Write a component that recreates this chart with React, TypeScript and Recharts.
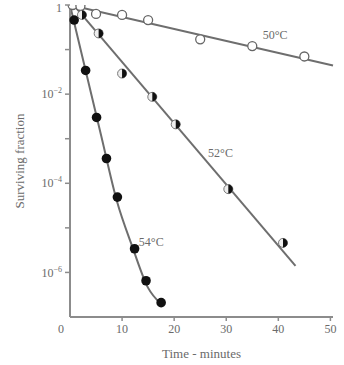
import React from "react";
import {
  ComposedChart,
  Line,
  Scatter,
  XAxis,
  YAxis,
  ReferenceDot,
} from "recharts";

// survival curves (time in minutes, surviving fraction)
const times50 = [0.5, 2, 5, 10, 15, 25, 35, 45];
const surv50 = [1.0, 0.95, 0.63, 0.6, 0.46, 0.17, 0.12, 0.07];
const fitTimes50 = [0, 50.5];
const fitSurv50 = [1.0, 0.044];

const times52 = [2.3, 5.5, 10, 15.8, 20.3, 30.4, 40.9];
const surv52 = [0.6, 0.23, 0.029, 0.0087, 0.0021, 7.4e-5, 4.6e-6];
const fitTimes52 = [1, 43.3];
const fitSurv52 = [0.91, 1.4e-6];

const times54 = [0.8, 3, 5.1, 7, 9.1, 12.4, 14.6, 17.5];
const surv54 = [0.46, 0.034, 0.003, 3.6e-4, 4.9e-5, 3.4e-6, 6.5e-7, 2.1e-7];
const fitTimes54 = [0, 3, 6, 9, 12, 15, 17.5];
const fitSurv54 = [1.0, 0.034, 1.15e-3, 4e-5, 3.7e-6, 4.5e-7, 1.95e-7];

const xTicks = [0, 10, 20, 30, 40, 50];
const yTicks = [1, 1e-1, 1e-2, 1e-3, 1e-4, 1e-5, 1e-6];

const curveLabels = [
  { text: "50°C", t: 39.4, s: 0.21 },
  { text: "52°C", t: 28.9, s: 4.9e-4 },
  { text: "54°C", t: 15.6, s: 4.8e-6 },
];

const zip = (ts: number[], ss: number[]) => ts.map((t, i) => ({ t, s: ss[i] }));

const AXIS = "#8c8c8c";
const LINE = "#6e6e6e";
const TEXT = "#6a6a6a";
const FONT = "'Liberation Serif', 'DejaVu Serif', serif";

const OpenDot = (p: any) => (
  <circle cx={p.cx} cy={p.cy} r={4.5} fill="#fff" stroke="#666" strokeWidth={1.3} />
);

const FullDot = (p: any) => <circle cx={p.cx} cy={p.cy} r={4.8} fill="#111" />;

const HalfDot = (p: any) => {
  const r = 4.5;
  return (
    <g>
      <circle cx={p.cx} cy={p.cy} r={r} fill="#eee" stroke="#777" strokeWidth={1} />
      <path
        d={`M${p.cx},${p.cy - r} A${r},${r} 0 0 1 ${p.cx},${p.cy + r} Z`}
        fill="#111"
      />
    </g>
  );
};

function XTick({ x, y, payload }: any) {
  const v = payload.value;
  return (
    <g>
      {v !== 0 && <line x1={x} x2={x} y1={y - 4} y2={y} stroke={AXIS} strokeWidth={1.5} />}
      <text
        x={v === 0 ? x - 9 : x}
        y={y + 3}
        dy="0.71em"
        textAnchor="middle"
        fontSize={12}
        fill={TEXT}
        fontFamily={FONT}
      >
        {v}
      </text>
    </g>
  );
}

function YTick({ x, y, payload }: any) {
  const exp = Math.round(Math.log10(payload.value));
  // tick mark drawn here so every decade gets one, labels only on even decades
  const mark = <line x1={x + 3} x2={x + 8} y1={y} y2={y} stroke={AXIS} strokeWidth={1.5} />;
  if (exp % 2 !== 0) return <g>{mark}</g>;
  return (
    <g>
      {mark}
      <text
        x={x}
        y={exp === 0 ? y + 3 : y}
        dy="0.35em"
        textAnchor="end"
        fontSize={12}
        fill={TEXT}
        fontFamily={FONT}
      >
        {exp === 0 ? (
          "1"
        ) : (
          <>
            10
            <tspan fontSize={8} dy={-5}>
              {`−${-exp}`}
            </tspan>
          </>
        )}
      </text>
    </g>
  );
}

export default function App() {
  return (
    <div style={{ position: "fixed", left: 0, top: 0, background: "#fff" }}>
      <ComposedChart
        width={344}
        height={365}
        margin={{ top: 5, right: 11, bottom: 0, left: 8 }}
      >
        <XAxis
          type="number"
          dataKey="t"
          domain={[0, 50]}
          ticks={xTicks}
          interval={0}
          stroke={AXIS}
          strokeWidth={2}
          tickLine={false}
          tickSize={4}
          tickMargin={0}
          tick={<XTick />}
          height={48}
          label={{
            value: "Time - minutes",
            position: "insideBottom",
            offset: 7,
            style: { fontSize: 13, fill: TEXT, fontFamily: FONT },
          }}
        />
        <YAxis
          type="number"
          scale="log"
          domain={[1e-7, 1]}
          allowDataOverflow
          ticks={yTicks}
          interval={0}
          stroke={AXIS}
          strokeWidth={2}
          tickLine={false}
          tickSize={5}
          tickMargin={3}
          tick={<YTick />}
          width={62}
          label={{
            content: ({ viewBox }: any) => {
              const cx = viewBox.x + 13;
              const cy = viewBox.y + viewBox.height / 2;
              return (
                <text
                  x={cx}
                  y={cy}
                  transform={`rotate(-90 ${cx} ${cy})`}
                  textAnchor="middle"
                  dominantBaseline="middle"
                  fontSize={13}
                  fill={TEXT}
                  fontFamily={FONT}
                >
                  Surviving fraction
                </text>
              );
            },
          }}
        />
        <Line data={zip(fitTimes50, fitSurv50)} dataKey="s" stroke={LINE} strokeWidth={2} dot={false} isAnimationActive={false} />
        <Line data={zip(fitTimes52, fitSurv52)} dataKey="s" stroke={LINE} strokeWidth={2} dot={false} isAnimationActive={false} />
        <Line type="monotone" data={zip(fitTimes54, fitSurv54)} dataKey="s" stroke={LINE} strokeWidth={2} dot={false} isAnimationActive={false} />
        <Scatter data={zip(times50, surv50)} dataKey="s" shape={OpenDot} isAnimationActive={false} />
        <Scatter data={zip(times52, surv52)} dataKey="s" shape={HalfDot} isAnimationActive={false} />
        <Scatter data={zip(times54, surv54)} dataKey="s" shape={FullDot} isAnimationActive={false} />
        {curveLabels.map((c) => (
          <ReferenceDot
            key={c.text}
            x={c.t}
            y={c.s}
            r={0}
            fill="none"
            stroke="none"
            label={{
              value: c.text,
              position: "center",
              style: { fontSize: 12, fill: TEXT, fontFamily: FONT },
            }}
          />
        ))}
      </ComposedChart>
    </div>
  );
}
